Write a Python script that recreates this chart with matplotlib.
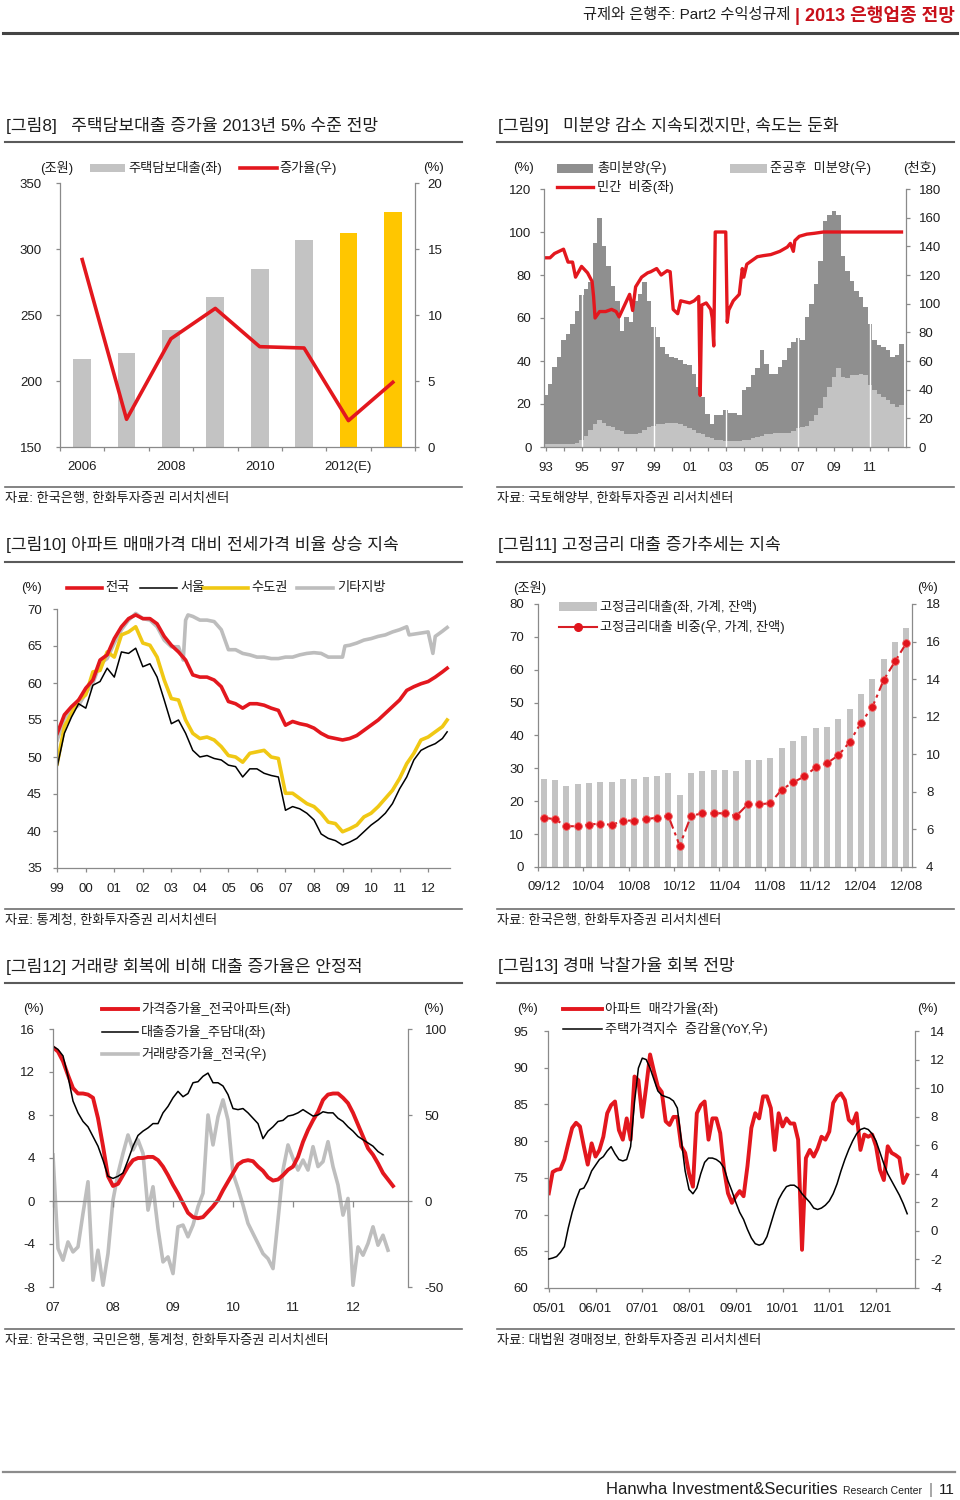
import numpy as np
import matplotlib
matplotlib.use('Agg')
import matplotlib.pyplot as plt
from matplotlib.lines import Line2D
from matplotlib.patches import Rectangle

plt.rcParams['font.family'] = ['Liberation Sans', 'Noto Sans CJK KR', 'DejaVu Sans']
plt.rcParams['axes.unicode_minus'] = False

W, H = 960, 1500
RED = '#E3171E'
YELLOW = '#FFC600'
GOLD = '#F0C814'
LGRAY = '#C3C3C3'
DGRAY = '#8F8F8F'
AXIS = '#8A8A8A'
TXT = '#1E1E1E'

# ---------------- data ----------------
# [그림8] 주택담보대출 (조원), 증가율 (%)
years_8 = ['2006', '2007', '2008', '2009', '2010', '2011', '2012', '2013']
mortgage_8 = [217, 221, 239, 264, 285, 307, 312, 328]
growth_8 = [14.2, 2.1, 8.2, 10.5, 7.6, 7.5, 2.0, 4.9]
forecast_8 = ['2012', '2013']
xlabels_8 = ['2006', '', '2008', '', '2010', '', '2012(E)', '']

# [그림9] quarterly from 1993.01 (천호)
unsold_total_9 = [36, 44, 56, 63, 74.5, 79, 86, 95, 106, 110, 115, 142, 160, 140, 126, 112,
                  102, 81, 91, 87, 102, 107, 115, 102, 84, 77, 70, 65, 63, 62, 61, 58,
                  57, 51, 42, 35, 23, 16, 22, 22, 26, 24, 24, 22, 40, 42, 50, 55,
                  68, 58, 51, 51, 56, 61, 69, 73, 76, 75, 91, 100, 114, 130, 158, 162,
                  165, 162, 133, 123, 116, 109, 105, 98, 86, 75, 71, 70, 68, 63, 64, 72]
unsold_done_9 = [2, 2, 2, 2, 2, 2, 2, 2.5, 5, 8, 12, 16, 19, 17, 15, 14,
                 12, 11, 9, 9, 9, 10, 12, 14, 15, 16, 16, 17, 17, 17, 16, 15,
                 13, 12, 10, 9, 7, 6, 5, 5, 4, 4, 4, 4, 5, 5, 6, 7,
                 8, 9, 9, 10, 10, 10, 10, 11, 13, 14, 15, 18, 22, 27, 35, 42,
                 49, 55, 49, 48, 50, 50, 51, 50, 43, 40, 37, 35, 33, 30, 28, 29]
# 민간 비중 (%), months since 1993.01
private_month_9 = [0, 3, 6, 9, 12, 15, 18, 20, 24, 28,
                   31, 32, 33, 36, 40, 44, 47, 49, 52, 56,
                   58, 60, 64, 68, 70, 74, 77, 81, 83, 85,
                   88, 90, 93, 96, 99, 102, 103, 104, 107, 110,
                   111, 112, 113, 120, 121, 122, 125, 129, 131, 132,
                   134, 138, 141, 145, 150, 156, 161, 163, 165, 166,
                   169, 174, 179, 185, 195, 205, 215, 225, 237]
private_share_9 = [88, 88, 90, 91, 92, 86, 86, 79, 84, 81,
                   77, 70, 60, 63, 63, 64, 63, 60.5, 65, 71,
                   63.5, 74.5, 79, 81, 81.5, 83, 80, 82, 81.5, 64,
                   62, 68, 67.5, 67, 68, 70, 24, 66, 67, 64,
                   60, 47, 100, 100, 58, 63.7, 68, 71, 83, 79,
                   85, 87, 88.5, 89, 89.5, 91, 93, 94.7, 91, 96,
                   98, 99, 99.4, 100, 100, 100, 100, 100, 100]
year_labels_9 = ['93', '95', '97', '99', '01', '03', '05', '07', '09', '11']
gap_months_9 = [24, 72, 120, 168, 216]

# [그림10] quarterly from 1999.01 (last point 2012.09)
months_10 = list(range(0, 163, 3)) + [164]
nation_10 = [53.2, 55.7, 56.8, 57.7, 59.3, 60.4, 63.1, 63.8, 66.0, 67.6, 68.7, 69.2,
             68.7, 68.7, 68.0, 66.3, 65.1, 64.2, 63.1, 61.1, 60.8, 60.8, 60.4, 59.5,
             57.5, 57.2, 56.6, 57.2, 57.2, 57.0, 56.6, 56.3, 54.3, 54.8, 54.5, 54.3,
             53.9, 53.2, 52.7, 52.5, 52.3, 52.5, 52.9, 53.6, 54.3, 55.0, 55.9, 56.8,
             57.7, 59.0, 59.5, 59.9, 60.2, 60.8, 61.5, 62.0]
seoul_10 = [48.7, 53.2, 55.4, 57.2, 56.6, 59.7, 60.2, 62.0, 60.8, 64.2, 64.0, 64.7,
            62.2, 62.6, 60.8, 57.7, 54.5, 55.0, 53.2, 50.9, 50.0, 50.2, 49.8, 49.6,
            48.9, 48.7, 47.3, 48.4, 48.4, 47.8, 47.5, 47.3, 42.8, 43.3, 43.0, 42.4,
            41.5, 39.6, 39.0, 38.7, 38.1, 38.5, 39.0, 39.9, 40.8, 41.5, 42.4, 43.7,
            45.7, 47.3, 49.6, 50.9, 51.4, 51.8, 52.5, 53.4]
capital_10 = [49.1, 54.1, 55.9, 57.7, 58.4, 61.5, 61.7, 64.2, 63.5, 66.5, 66.9, 67.6,
              65.4, 65.1, 63.5, 60.4, 57.9, 57.7, 55.0, 53.2, 52.5, 52.7, 52.3, 51.4,
              50.2, 50.0, 49.3, 50.5, 50.7, 50.9, 50.0, 49.8, 45.1, 45.1, 44.4, 43.7,
              43.3, 42.4, 41.2, 41.0, 39.9, 40.3, 40.8, 41.9, 42.4, 43.3, 44.4, 45.5,
              47.1, 49.1, 50.5, 52.3, 52.7, 53.4, 54.1, 55.0]
other_months_10 = [0, 3, 6, 9, 12, 15, 18, 21, 24, 27, 30, 33, 36, 39, 42, 45, 48, 51,
                   53, 54, 55, 57,
                   60, 63, 66, 69, 72, 75, 78, 81, 84, 87, 90, 93, 96, 99, 102, 105, 108,
                   111, 114, 117, 120,
                   121, 123,
                   126, 129, 132, 135, 138, 141, 144, 147, 148, 152, 156, 158, 159, 162, 164]
other_10 = [52.3, 55.2, 56.3, 57.0, 58.6, 60.0, 62.6, 63.3, 65.4, 67.2, 68.5, 69.4, 68.7,
            68.5, 67.6, 65.8, 64.9, 64.9,
            63.1, 68.5, 69.2, 69.0,
            68.5, 68.5, 68.3, 67.2, 64.5, 64.5, 64.0, 63.8, 63.5, 63.5, 63.3, 63.3, 63.5,
            63.5, 63.8, 64.0, 64.1, 64.0, 63.5, 63.5, 63.5,
            65.0, 65.1,
            65.4, 65.8, 66.0, 66.3, 66.5, 66.9, 67.2, 67.6, 66.5, 66.7, 66.9, 64.0, 66.3,
            67.0, 67.5]
year_labels_10 = ['99', '00', '01', '02', '03', '04', '05', '06', '07', '08', '09', '10', '11', '12']

# [그림11] monthly 2009.12 - 2012.08
fixed_loan_11 = [26.9, 26.4, 24.6, 25.1, 25.5, 26.0, 26.0, 26.9, 26.9, 27.4, 27.8, 28.7,
                 22.0, 28.7, 29.1, 29.6, 29.6, 29.1, 32.4, 32.4, 33.3, 36.3, 38.2, 39.9,
                 42.2, 42.6, 44.9, 48.1, 52.6, 57.1, 63.4, 68.3, 72.8]
fixed_share_11 = [6.63, 6.54, 6.17, 6.17, 6.26, 6.31, 6.24, 6.47, 6.47, 6.54, 6.63, 6.72,
                  5.14, 6.72, 6.86, 6.86, 6.86, 6.72, 7.33, 7.33, 7.40, 8.12, 8.50, 8.82,
                  9.30, 9.53, 9.94, 10.65, 11.68, 12.51, 13.95, 14.94, 15.92]
labels_11 = ['09/12', '10/04', '10/08', '10/12', '11/04', '11/08', '11/12', '12/04', '12/08']

# [그림12] monthly from 2007.01
price_12 = [14.3, 13.9, 13.0, 11.7, 10.5, 10.0, 10.0, 9.9, 9.6, 7.7,
            5.1, 2.3, 1.4, 1.6, 2.4, 3.2, 3.8, 4.0, 4.0, 4.1,
            4.1, 3.8, 3.2, 2.4, 1.5, 0.7, -0.2, -1.1, -1.5, -1.6,
            -1.5, -1.0, -0.5, 0.1, 1.0, 1.8, 2.6, 3.4, 3.7, 3.8,
            3.7, 3.2, 2.8, 2.2, 1.9, 2.0, 2.4, 2.9, 3.2, 4.1,
            5.5, 6.6, 7.5, 8.3, 9.4, 9.9, 10.0, 10.0, 9.6, 9.1,
            8.2, 7.1, 6.0, 4.9, 4.3, 3.5, 2.6, 2.0, 1.4]
loan_12 = [14.4, 14.1, 13.5, 11.6, 9.3, 8.2, 7.4, 6.9, 6.0, 5.1,
           3.8, 2.3, 2.1, 2.3, 2.6, 3.8, 5.1, 6.1, 6.5, 6.8,
           7.2, 7.2, 8.2, 8.8, 9.6, 10.2, 9.7, 10.0, 11.0, 11.1,
           11.6, 11.9, 11.0, 11.0, 10.7, 9.9, 8.6, 8.5, 8.6, 8.2,
           7.7, 7.2, 5.8, 6.5, 6.9, 7.4, 7.5, 7.9, 8.0, 8.2,
           8.5, 8.2, 7.9, 8.0, 8.3, 8.2, 8.2, 7.7, 7.4, 6.9,
           6.5, 6.0, 5.7, 5.4, 5.1, 4.6, 4.3]
volume_12 = [26.8, -27.6, -34.4, -23.8, -29.6, -26.7, -7.2, 11.2, -46.0, -28.6,
             -49.0, -30.6, 0.5, 16.0, 27.7, 38.4, 29.7, 35.5, 27.7, -5.3,
             8.3, -16.0, -35.4, -32.5, -42.2, -15.0, -14.0, -20.8, -14.0, -3.3,
             4.5, 50.0, 32.6, 49.0, 58.8, 47.0, 16.0, 7.3, -2.4, -13.0,
             -18.9, -24.7, -30.6, -33.5, -39.3, -11.0, 18.0, 32.6, 24.8, 18.0,
             23.8, 18.0, 31.6, 20.0, 22.9, 34.5, 20.0, 9.3, -8.2, 1.5,
             -49.0, -26.7, -31.5, -24.7, -15.0, -25.7, -19.9, -28.6]
year_labels_12 = ['07', '08', '09', '10', '11', '12']

# [그림13] monthly from 2005.01
auction_13 = [72.9, 75.8, 76.1, 76.2, 77.5, 79.7, 81.8, 82.5, 82.0, 79.3,
              76.8, 79.7, 77.9, 78.8, 80.6, 83.8, 84.9, 85.4, 81.5, 80.2,
              83.1, 80.2, 88.8, 88.3, 83.3, 87.4, 91.8, 89.5, 87.4, 86.7,
              82.7, 82.2, 83.3, 83.3, 79.3, 78.4, 75.6, 73.8, 83.8, 84.9,
              85.4, 80.2, 83.1, 83.1, 81.1, 76.1, 72.9, 71.6, 72.5, 73.2,
              72.5, 76.6, 81.8, 83.8, 83.1, 86.1, 86.1, 84.5, 78.8, 83.8,
              82.0, 83.1, 82.4, 82.4, 80.2, 65.2, 77.7, 78.8, 77.9, 79.0,
              80.6, 80.2, 81.3, 85.2, 86.1, 86.5, 85.6, 82.9, 82.4, 83.8,
              78.8, 80.9, 80.6, 80.9, 79.3, 76.1, 74.7, 79.3, 78.4, 78.1,
              77.7, 74.3, 75.4]
hpi_13 = [-1.97, -1.9, -1.8, -1.5, -1.1, 0.2, 1.3, 2.2, 2.9, 3.0,
          3.5, 4.2, 4.6, 5.0, 5.2, 5.6, 5.9, 5.4, 5.0, 4.9,
          5.0, 5.9, 9.0, 11.4, 12.1, 12.0, 11.4, 10.6, 9.8, 9.5,
          9.4, 9.3, 9.1, 8.6, 6.4, 4.2, 2.9, 2.6, 3.0, 4.0,
          4.8, 5.1, 5.1, 5.0, 4.8, 4.4, 3.5, 2.8, 2.0, 1.3,
          0.8, 0.1, -0.5, -0.9, -1.0, -0.9, -0.4, 0.5, 1.4, 2.2,
          2.7, 3.1, 3.2, 3.2, 3.0, 2.6, 2.3, 2.0, 1.6, 1.5,
          1.6, 1.8, 2.1, 2.6, 3.3, 4.2, 5.0, 5.7, 6.3, 6.8,
          7.1, 7.2, 7.1, 6.8, 6.3, 5.5, 4.7, 4.0, 3.5, 3.0,
          2.5, 1.9, 1.2]
labels_13 = ['05/01', '06/01', '07/01', '08/01', '09/01', '10/01', '11/01', '12/01']

# ---------------- helpers ----------------
fig = plt.figure(figsize=(W / 100, H / 100), dpi=100)


def fx(x):
    return x / W


def fy(y):
    return 1 - y / H


def new_axes(left, top, right, bottom):
    return fig.add_axes([fx(left), fy(bottom), (right - left) / W, (bottom - top) / H])


def put(x, y, s, size=9.5, ha='left', color=TXT, **kw):
    return fig.text(fx(x), fy(y), s, fontsize=size, ha=ha, va='center', color=color, **kw)


def hline(x1, x2, y, color, lw, **kw):
    fig.add_artist(Line2D([fx(x1), fx(x2)], [fy(y), fy(y)], transform=fig.transFigure,
                          color=color, lw=lw, **kw))


def key_box(x1, x2, y, color, h=8):
    fig.add_artist(Rectangle((fx(x1), fy(y + h / 2)), (x2 - x1) / W, h / H,
                             transform=fig.transFigure, color=color, lw=0))


def frame(ax, show, pad=4):
    for side in ['left', 'right', 'top', 'bottom']:
        ax.spines[side].set_visible(side in show)
        ax.spines[side].set_color(AXIS)
        ax.spines[side].set_linewidth(0.9)
    ax.tick_params(colors=AXIS, labelcolor=TXT, labelsize=9.5, length=3, width=0.9, pad=pad)


def panel(x0, title, source, title_y, src_y):
    put(x0 + 1, title_y, title, size=12.3)
    hline(x0, x0 + 457, title_y + 17, '#5A5A5A', 1.5)
    hline(x0, x0 + 457, src_y - 11, '#6E6E6E', 1.2)
    put(x0, src_y, source, size=9.5)


# ---------------- header / footer ----------------
t_red = put(955, 15, '| 2013 은행업종 전망', size=13, ha='right', color='#C8101A', fontweight='bold')
bb = t_red.get_window_extent(renderer=fig.canvas.get_renderer())
put(bb.x0 - 5, 15, '규제와 은행주: Part2 수익성규제', size=11, ha='right')
hline(3, 957, 33, '#444444', 2.2)

hline(3, 955, 1472, '#8C8C8C', 1.6)
put(838, 1490, 'Hanwha Investment&Securities', size=12, ha='right')
put(922, 1491, 'Research Center', size=7.5, ha='right')
put(931, 1490, '|', size=11, ha='center', color='#777777')
put(955, 1490, '11', size=11, ha='right')

# ---------------- [그림8] ----------------
panel(5, '[그림8]   주택담보대출 증가율 2013년 5% 수준 전망', '자료: 한국은행, 한화투자증권 리서치센터', 125, 498)
ax = new_axes(60, 183, 415, 447)
frame(ax, ('left', 'bottom'), pad=10)
x8 = np.arange(len(years_8))
ax.bar(x8, mortgage_8, width=0.4, color=[YELLOW if y in forecast_8 else LGRAY for y in years_8])
ax.set_xlim(-0.5, len(years_8) - 0.5)
ax.set_ylim(150, 350)
ax.set_yticks(np.arange(150, 351, 50))
ax.set_xticks(np.arange(-0.5, len(years_8), 1))
ax.set_xticklabels([])
ax.set_xticks(x8, minor=True)
ax.set_xticklabels(xlabels_8, minor=True)
ax.tick_params(axis='x', which='minor', length=0, pad=10, labelsize=9.5, labelcolor=TXT)
ax2 = ax.twinx()
frame(ax2, ('right',), pad=6)
ax2.plot(x8, growth_8, color=RED, lw=2.6)
ax2.set_ylim(0, 20)
ax2.set_yticks(np.arange(0, 21, 5))

put(57, 168, '(조원)', ha='center')
key_box(90, 125, 168, LGRAY)
put(128, 168, '주택담보대출(좌)')
hline(240, 277, 168, RED, 2.6)
put(279, 168, '증가율(우)')
put(434, 168, '(%)', ha='center')

# ---------------- [그림9] ----------------
panel(497, '[그림9]   미분양 감소 지속되겠지만, 속도는 둔화', '자료: 국토해양부, 한화투자증권 리서치센터', 125, 498)
ax = new_axes(544, 189, 906, 447)
ax2 = ax.twinx()
frame(ax, ('left', 'bottom'), pad=6)
frame(ax2, ('right',), pad=6)
q9 = np.arange(len(unsold_total_9)) * 3
ax2.bar(q9, unsold_total_9, width=3, color=DGRAY, lw=0)
ax2.bar(q9, unsold_done_9, width=3, color=LGRAY, lw=0)
for m in gap_months_9:
    ax2.axvline(m, color='white', lw=1)
ax2.set_ylim(0, 180)
ax2.set_yticks(np.arange(0, 181, 20))
ax.plot(private_month_9, private_share_9, color=RED, lw=2.4)
ax.set_zorder(ax2.get_zorder() + 1)
ax.patch.set_visible(False)
ax.set_ylim(0, 120)
ax.set_yticks(np.arange(0, 121, 20))
ax.set_xlim(-1, 240)
ax.set_xticks(np.arange(0, 240, 24))
ax.set_xticklabels(year_labels_9)
ax.set_xticks(np.arange(0, 240, 12), minor=True)
ax.tick_params(axis='x', which='minor', colors=AXIS, length=3, width=0.9)
ax.tick_params(axis='x', which='major', pad=8)

put(523, 168, '(%)', ha='center')
key_box(557, 593, 168, DGRAY, h=9)
put(597, 168, '총미분양(우)')
key_box(730, 767, 168, LGRAY, h=9)
put(770, 168, '준공후  미분양(우)')
put(920, 168, '(천호)', ha='center')
hline(557, 593, 187, RED, 2.4)
put(597, 187, '민간  비중(좌)')

# ---------------- [그림10] ----------------
panel(5, '[그림10] 아파트 매매가격 대비 전세가격 비율 상승 지속', '자료: 통계청, 한화투자증권 리서치센터', 545, 920)
ax = new_axes(57, 609, 450, 868)
frame(ax, ('left', 'bottom'), pad=8)
ax.plot(other_months_10, other_10, color='#BDBDBD', lw=2.6)
ax.plot(months_10, capital_10, color=GOLD, lw=2.6)
ax.plot(months_10, nation_10, color=RED, lw=2.6)
ax.plot(months_10, seoul_10, color='black', lw=1.1)
ax.set_xlim(-0.1, 165.2)
ax.set_ylim(35, 70)
ax.set_yticks(np.arange(35, 71, 5))
ax.set_xticks(np.arange(0, 12 * len(year_labels_10), 12))
ax.set_xticklabels(year_labels_10)
ax.tick_params(axis='x', pad=8)

put(32, 588, '(%)', ha='center')
hline(67, 102, 588, RED, 2.6)
put(105, 588, '전국')
hline(140, 177, 588, 'black', 1.1)
put(180, 588, '서울')
hline(203, 248, 588, GOLD, 2.6)
put(251, 588, '수도권')
hline(297, 333, 588, '#BDBDBD', 2.6)
put(337, 588, '기타지방')

# ---------------- [그림11] ----------------
panel(497, '[그림11] 고정금리 대출 증가추세는 지속', '자료: 한국은행, 한화투자증권 리서치센터', 545, 920)
ax = new_axes(538, 604, 912, 867)
frame(ax, ('left', 'bottom'), pad=7)
x11 = np.arange(len(fixed_loan_11))
ax.bar(x11, fixed_loan_11, width=0.55, color=LGRAY)
ax.set_xlim(-0.5, len(x11) - 0.5)
ax.set_ylim(0, 80)
ax.set_yticks(np.arange(0, 81, 10))
ax.set_xticks(np.arange(-0.5, len(x11), 4))
ax.set_xticklabels([])
ax.set_xticks(np.arange(0, len(x11), 4), minor=True)
ax.set_xticklabels(labels_11, minor=True)
ax.tick_params(axis='x', which='minor', length=0, pad=10, labelsize=9.5, labelcolor=TXT)
ax2 = ax.twinx()
frame(ax2, ('right',), pad=7)
ax2.plot(x11, fixed_share_11, color='#D81E25', lw=1.5, ls=(0, (5, 2, 1.5, 2)),
         marker='o', ms=5.5, mfc='#E0141C', mec='#F06060', mew=0.6)
ax2.set_ylim(4, 18)
ax2.set_yticks(np.arange(4, 19, 2))

put(530, 588, '(조원)', ha='center')
put(927, 588, '(%)', ha='center')
key_box(559, 597, 607, LGRAY, h=9)
put(600, 607, '고정금리대출(좌, 가계, 잔액)')
hline(559, 597, 627, '#D81E25', 1.5)
fig.add_artist(Line2D([fx(578)], [fy(627)], marker='o', ms=5.5, color='#E0141C',
                      transform=fig.transFigure))
put(600, 627, '고정금리대출 비중(우, 가계, 잔액)')

# ---------------- [그림12] ----------------
panel(5, '[그림12] 거래량 회복에 비해 대출 증가율은 안정적', '자료: 한국은행, 국민은행, 통계청, 한화투자증권 리서치센터', 966, 1340)
ax = new_axes(53, 1029, 408, 1287)
ax2 = ax.twinx()
frame(ax, ('left', 'bottom'), pad=10)
frame(ax2, ('right',), pad=9)
ax2.plot(np.arange(len(volume_12)), volume_12, color='#BEBEBE', lw=2.6)
ax2.set_ylim(-50, 100)
ax2.set_yticks([-50, 0, 50, 100])
ax.plot(np.arange(len(price_12)), price_12, color=RED, lw=2.8)
ax.plot(np.arange(len(loan_12)), loan_12, color='black', lw=1.1)
ax.set_zorder(ax2.get_zorder() + 1)
ax.patch.set_visible(False)
ax.set_xlim(0, 71)
ax.set_ylim(-8, 16)
ax.set_yticks(np.arange(-8, 17, 4))
ax.spines['bottom'].set_position(('data', 0))
ax.set_xticks(np.arange(0, 12 * len(year_labels_12), 12))
ax.tick_params(axis='x', labelbottom=False, length=4)
sec = ax.secondary_xaxis('bottom')
sec.set_xticks(np.arange(0, 12 * len(year_labels_12), 12), labels=year_labels_12)
sec.tick_params(length=0, pad=11, labelsize=9.5, labelcolor=TXT)
sec.spines['bottom'].set_visible(False)

put(34, 1009, '(%)', ha='center')
put(434, 1009, '(%)', ha='center')
hline(102, 138, 1009, RED, 2.8)
put(141, 1009, '가격증가율_전국아파트(좌)')
hline(102, 138, 1032, 'black', 1.1)
put(141, 1032, '대출증가율_주담대(좌)')
hline(102, 138, 1054, '#BEBEBE', 2.6)
put(141, 1054, '거래량증가율_전국(우)')

# ---------------- [그림13] ----------------
panel(497, '[그림13] 경매 낙찰가율 회복 전망', '자료: 대법원 경매정보, 한화투자증권 리서치센터', 966, 1340)
ax = new_axes(548, 1031, 915, 1288)
frame(ax, ('left', 'bottom'), pad=11)
ax.plot(np.arange(len(auction_13)), auction_13, color=RED, lw=2.8)
ax.set_xlim(-0.2, 94)
ax.set_ylim(60, 95)
ax.set_yticks(np.arange(60, 96, 5))
ax.set_xticks(np.arange(0, 12 * len(labels_13), 12))
ax.set_xticklabels(labels_13)
ax.tick_params(axis='x', pad=8)
ax2 = ax.twinx()
frame(ax2, ('right',), pad=8)
ax2.plot(np.arange(len(hpi_13)), hpi_13, color='black', lw=1.1)
ax2.set_ylim(-4, 14)
ax2.set_yticks(np.arange(-4, 15, 2))

put(527, 1009, '(%)', ha='center')
put(928, 1009, '(%)', ha='center')
hline(563, 602, 1009, RED, 2.8)
put(605, 1009, '아파트  매각가율(좌)')
hline(563, 602, 1029, 'black', 1.1)
put(605, 1029, '주택가격지수  증감율(YoY,우)')

fig.savefig('out.png', dpi=100, facecolor='white')
